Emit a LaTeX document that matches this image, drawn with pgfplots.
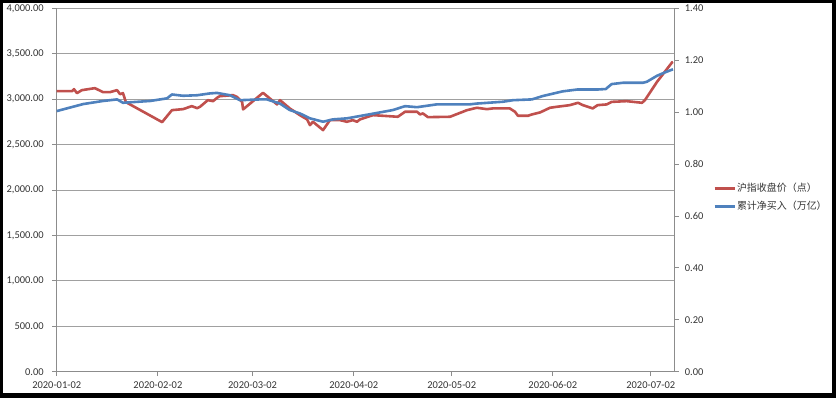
\documentclass[border=0pt]{standalone}
\usepackage{pgfplots}
\pgfplotsset{compat=1.18}
\usepackage{fontspec}
\setmainfont{Carlito}
\newfontfamily\cjk{Noto Sans CJK SC}
\definecolor{redc}{HTML}{C0504D}
\definecolor{bluec}{HTML}{4F81BD}
\definecolor{gridc}{HTML}{A0A0A0}
\definecolor{axc}{HTML}{8C8C8C}
\definecolor{txt}{HTML}{333333}
\begin{document}
\begin{tikzpicture}
\pgfplotsset{
  base/.style={
    scale only axis, width=617.6bp, height=363.4bp,
    xmin=0, xmax=189.2,
    tick align=outside, major tick length=4.5bp,
    tick style={axc, line width=0.9bp},
    axis line style={axc, line width=0.9bp, -},
    ticklabel style={font=\fontsize{10.5}{12}\selectfont, text=txt},
    /pgf/number format/assume math mode=true,
  }
}
\begin{axis}[base,
  ymin=0, ymax=4000, ytick={0,500,...,4000},
  ymajorgrids, grid style={gridc, line width=0.9bp},
  axis x line*=bottom, axis y line*=left,
  xtick={0,31,60,91,121,152,182},
  xticklabels={2020-01-02,2020-02-02,2020-03-02,2020-04-02,2020-05-02,2020-06-02,2020-07-02},
  xticklabel style={yshift=-2bp},
  yticklabel style={xshift=-5bp, /pgf/number format/.cd, fixed, fixed zerofill, precision=2, 1000 sep={,}},
  scaled y ticks=false,
]
\addplot[redc, line width=2.6bp, line join=round] table {
0 3088
4.7 3088
5.3 3110
6.2 3066
7.7 3099
11.7 3121
14.2 3077
16.3 3077
18.5 3099
19.4 3055
20.3 3066
21.2 2967
32.3 2747
35.3 2879
38.7 2890
41.4 2923
43 2901
43.9 2916
46.3 2989
47.9 2978
49.4 3022
50 3033
54 3044
55.2 3025
56.8 2970
57.1 2887
63.2 3070
67.5 2942
68.4 2989
71.4 2898
74.5 2824
76.7 2777
77.6 2714
78.5 2751
81.6 2659
83.7 2769
86.8 2769
88.9 2751
90.7 2769
92 2751
92.9 2777
96.9 2824
104.5 2806
106.7 2861
110.4 2861
111.3 2832
112.2 2843
113.7 2802
120.5 2806
125.7 2879
128.7 2905
131.8 2890
133.6 2898
138.8 2898
140.4 2861
141.3 2817
144.4 2817
145.6 2832
148.1 2854
151.1 2905
153.2 2916
157.2 2934
159.7 2960
161.2 2934
164.2 2898
165.7 2934
168.5 2942
170 2970
174.6 2978
179.3 2960
180.2 2989
183.9 3190
188.5 3404
188.8 3410
};
\end{axis}
\begin{axis}[base,
  ymin=0, ymax=1.4, ytick={0,0.2,0.4,0.6,0.8,1.0,1.2,1.4},
  axis x line=none, axis y line*=right,
  yticklabel style={xshift=2.5bp, /pgf/number format/.cd, fixed, fixed zerofill, precision=2},
  legend style={at={(1.063,0.48)}, anchor=west, draw=none, fill=none,
    font=\cjk\fontsize{10}{12}\selectfont, text=txt,
    row sep=8bp, inner sep=0pt,
    nodes={inner xsep=1bp, inner ysep=0pt, text height=8bp, text depth=2bp}},
  legend cell align=left,
  legend image code/.code={\draw[#1] (0bp,0bp) -- (20bp,0bp);},
]
\addlegendimage{redc, line width=2.6bp}
\addlegendentry{沪指收盘价（点）}
\addplot[bluec, line width=2.6bp, line join=round] table {
0 1.004
8.1 1.031
14.2 1.043
18.5 1.049
20.3 1.036
28.6 1.043
33.8 1.053
35.3 1.068
38.7 1.063
43 1.065
46.9 1.072
49.1 1.074
53.1 1.065
56.1 1.046
62.3 1.049
64.4 1.049
68.4 1.033
71.4 1.008
74.5 0.995
77.6 0.976
81.6 0.963
84.6 0.972
88.9 0.976
92.9 0.985
96 0.992
103 1.008
106.7 1.023
110.4 1.019
116.5 1.030
126.6 1.030
128.7 1.033
136.7 1.040
139.8 1.046
145.6 1.049
148.9 1.062
155 1.080
159.4 1.087
165.5 1.087
168.2 1.089
170 1.108
173.4 1.113
179.6 1.113
180.8 1.117
183.9 1.140
186.3 1.153
188.8 1.165
};
\addlegendentry{累计净买入（万亿）}
\end{axis}
\fill[black, even odd rule] (-56.7bp,-26.3bp) rectangle (779.3bp,371.7bp)
  (-53.7bp,-21.3bp) rectangle (775.3bp,368.7bp);
\pgfresetboundingbox
\useasboundingbox (-56.7bp,-26.3bp) rectangle (779.3bp,371.7bp);
\end{tikzpicture}
\end{document}
